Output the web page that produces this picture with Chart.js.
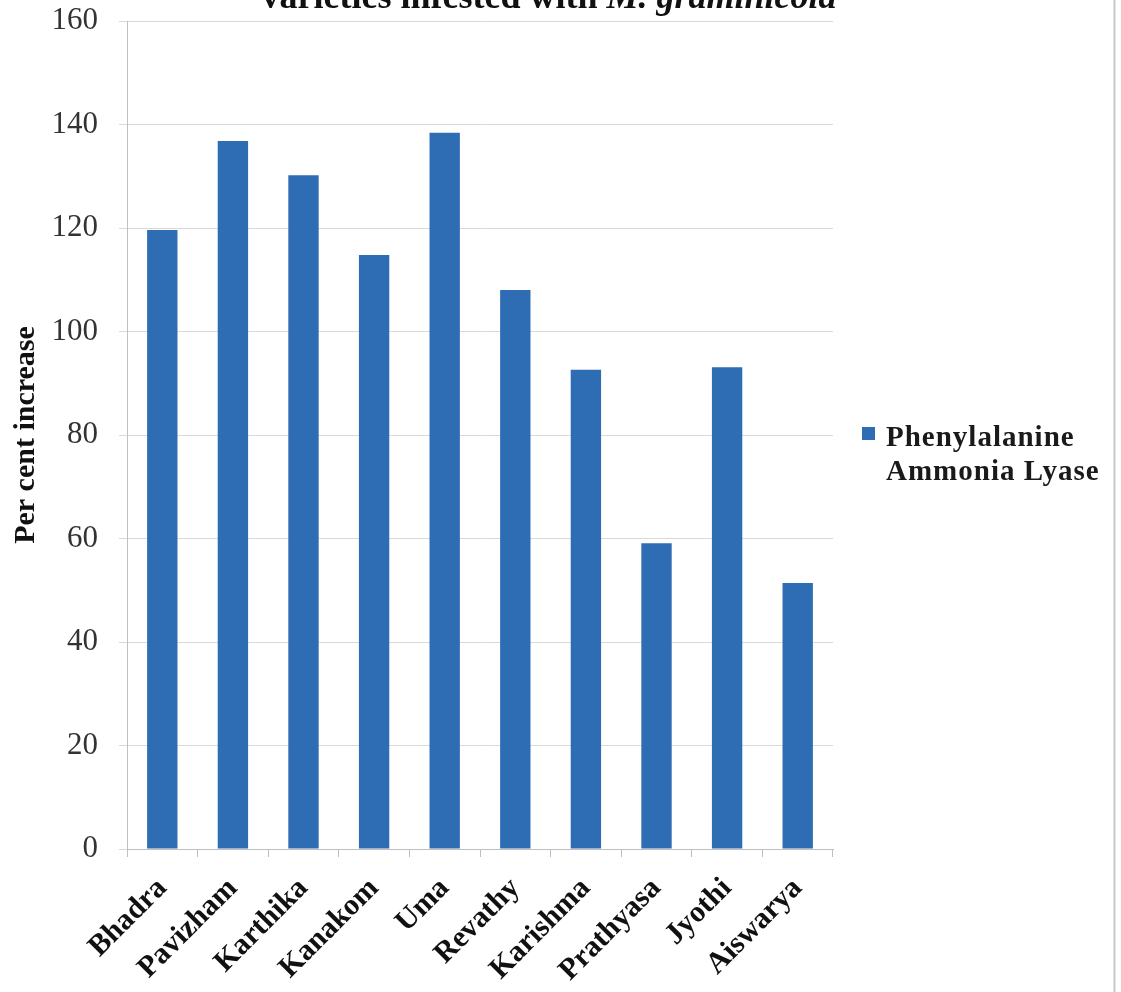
<!DOCTYPE html>
<html>
<head>
<meta charset="utf-8">
<script src="https://cdn.jsdelivr.net/npm/chart.js@4.4.0/dist/chart.umd.min.js"></script>
<style>
  html, body { margin: 0; padding: 0; background: #fff; }
  #wrap { width: 1121px; height: 992px; }
</style>
</head>
<body>
<div id="wrap"><canvas id="palChart" width="1121" height="992"></canvas></div>
<script>
const varieties = ["Bhadra", "Pavizham", "Karthika", "Kanakom", "Uma", "Revathy", "Karishma", "Prathyasa", "Jyothi", "Aiswarya"];
const palIncrease = [119.6, 136.8, 130.2, 114.8, 138.4, 108.0, 92.6, 59.1, 93.1, 51.4];
const seriesName = ["Phenylalanine", "Ammonia Lyase"];
const titleParts = ["varieties infested with ", "M. graminicola"];

const serif = "'Liberation Serif', 'Times New Roman', serif";
const barBlue = "#2e6cb4";

// heading with an italic species name, cut by the top edge
const headingPlugin = {
  id: "heading",
  afterDraw(chart) {
    const ctx = chart.ctx;
    ctx.save();
    ctx.fillStyle = "#111";
    ctx.textBaseline = "alphabetic";
    ctx.font = "bold 36px " + serif;
    const w1 = ctx.measureText(titleParts[0]).width;
    ctx.font = "italic bold 36px " + serif;
    const w2 = ctx.measureText(titleParts[1]).width;
    let x = 549 - (w1 + w2) / 2;
    ctx.font = "bold 36px " + serif;
    ctx.fillText(titleParts[0], x, 8);
    ctx.font = "italic bold 36px " + serif;
    ctx.fillText(titleParts[1], x + w1, 8);
    ctx.restore();
  }
};

// legend box on the right plus the frame line
const sideLegendPlugin = {
  id: "sideLegend",
  afterDraw(chart) {
    const ctx = chart.ctx;
    ctx.save();
    ctx.fillStyle = barBlue;
    ctx.fillRect(862, 427, 13, 13);
    ctx.fillStyle = "#1a1a1a";
    ctx.font = "bold 29px " + serif;
    ctx.letterSpacing = "1px";
    ctx.textBaseline = "alphabetic";
    ctx.fillText(seriesName[0], 886, 446);
    ctx.fillText(seriesName[1], 886, 480);
    ctx.letterSpacing = "0px";
    ctx.strokeStyle = "#c8c8c8";
    ctx.lineWidth = 2;
    ctx.beginPath();
    ctx.moveTo(1114.5, 0);
    ctx.lineTo(1114.5, 992);
    ctx.stroke();
    ctx.restore();
  }
};

new Chart(document.getElementById("palChart"), {
  type: "bar",
  data: {
    labels: varieties,
    datasets: [{
      label: seriesName.join(" "),
      data: palIncrease,
      backgroundColor: barBlue,
      borderWidth: 0,
      categoryPercentage: 1,
      barPercentage: 0.43
    }]
  },
  options: {
    responsive: false,
    animation: false,
    layout: { padding: { top: 21, right: 288, left: 0, bottom: 0 } },
    plugins: {
      legend: { display: false },
      tooltip: { enabled: false }
    },
    scales: {
      x: {
        afterFit(s) { s.height = 143; },
        grid: { drawOnChartArea: false, offset: true, tickLength: 8, color: "#bfbfbf" },
        border: { color: "#bfbfbf" },
        ticks: {
          minRotation: 45,
          maxRotation: 45,
          padding: 14,
          color: "#111",
          font: { family: serif, size: 30, weight: "bold" }
        }
      },
      y: {
        min: 0,
        max: 160,
        afterFit(s) {
          s.width = 127;
          s.paddingTop = 0;
          s.paddingBottom = 0;
        },
        grid: { color: "#d9d9d9", tickLength: 8 },
        border: { color: "#bfbfbf" },
        ticks: {
          stepSize: 20,
          padding: 21,
          color: "#333",
          font: { family: serif, size: 31 }
        },
        title: {
          display: true,
          text: "Per cent increase",
          color: "#111",
          padding: { top: 8, bottom: 0 },
          font: { family: serif, size: 30, weight: "bold" }
        }
      }
    }
  },
  plugins: [headingPlugin, sideLegendPlugin]
});
</script>
</body>
</html>
